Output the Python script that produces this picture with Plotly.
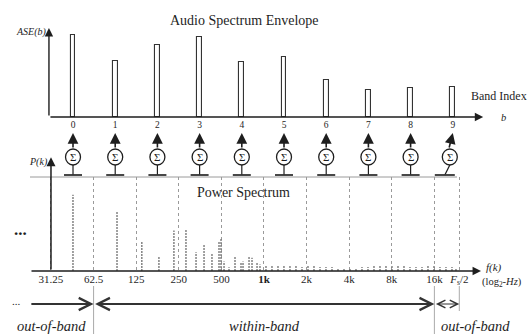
import numpy as np
import plotly.graph_objects as go

# ---------------- data ----------------
band_index = [0, 1, 2, 3, 4, 5, 6, 7, 8, 9]
ase_values = [0.92, 0.63, 0.81, 0.90, 0.62, 0.67, 0.42, 0.30, 0.33, 0.34]

edge_hz = [31.25, 62.5, 125, 250, 500, 1000, 2000, 4000, 8000, 16000, 24000]
edge_labels = ["31.25", "62.5", "125", "250", "500", "<b>1k</b>", "2k", "4k", "8k",
               "16k", "<i>F</i><sub>s</sub>/2"]

peak_hz = [44.7, 91.5, 137, 181, 231, 281, 331, 377, 429, 481, 497, 522, 566, 624,
           688, 711, 784, 823, 893, 937]
peak_power = [0.81, 0.63, 0.32, 0.15, 0.43, 0.44, 0.20, 0.28, 0.19, 0.31, 0.35, 0.10,
              0.04, 0.16, 0.09, 0.10, 0.15, 0.14, 0.09, 0.07]

floor_hz = [1033, 1139, 1256, 1384, 1526, 1683, 1856, 2046, 2256, 2488, 2742, 3024,
            3334, 3676, 4053, 4469, 4926, 5431, 5988, 6602, 7280, 8027, 8850, 9756,
            10757, 11860, 13078, 14418, 15897, 17525, 19320, 21302, 22736]
floor_power = [0.064, 0.053, 0.053, 0.064, 0.053, 0.053, 0.043, 0.053, 0.053, 0.043,
               0.043, 0.043, 0.032, 0.032, 0.032, 0.032, 0.043, 0.043, 0.053, 0.064,
               0.064, 0.064, 0.064, 0.053, 0.043, 0.043, 0.043, 0.053, 0.053, 0.043,
               0.043, 0.043, 0.032]

W, H = 527, 334
SERIF = "Liberation Serif"
INK = "#1e1e1e"


def py(px):
    return 1 - px / H


def oct_(hz):
    return float(np.log2(hz))


fig = go.Figure()

# ---- top: Audio Spectrum Envelope (hollow bars) ----
fig.add_trace(go.Bar(
    x=band_index, y=ase_values, width=0.11,
    marker=dict(color="white", line=dict(color="#333333", width=1.1)),
    xaxis="x", yaxis="y", showlegend=False, hoverinfo="skip"))

# ---- bottom: power spectrum lines ----
spec_hz = peak_hz + floor_hz
spec_p = peak_power + floor_power
xs, ys = [], []
for f, p in zip(spec_hz, spec_p):
    xs += [oct_(f), oct_(f), None]
    ys += [0, p, None]
fig.add_trace(go.Scatter(
    x=xs, y=ys, mode="lines", line=dict(color="#7a7a7a", width=1.4, dash="2px,1px"),
    xaxis="x2", yaxis="y2", showlegend=False, hoverinfo="skip"))

ann = []
shp = []


def arrow(x, y, ax, ay, xref, yref, w=1.3, head=2, size=1.0, color=INK, **kw):
    ann.append(dict(x=x, y=y, ax=ax, ay=ay, xref=xref, yref=yref, axref=xref,
                    ayref=yref, showarrow=True, arrowhead=head, arrowsize=size,
                    arrowwidth=w, arrowcolor=color, text="", standoff=0, **kw))


# top axes
arrow(9.72, 0, -0.57, 0, "x", "y", w=1.4, size=1.2)
arrow(-0.57, 1.0, -0.57, 0, "x", "y", w=1.4, size=1.2)
# bottom axes
arrow(15.06, 0, 4.473, 0, "x2", "y2", w=1.4, size=1.2)
arrow(oct_(31.25), 1.21, oct_(31.25), 0, "x2", "y2", w=1.5, size=1.2)

# summation blocks
for b in band_index:
    dx = -3 if b == band_index[-1] else 0
    cy = 157
    shp.append(dict(type="circle", xref="x", yref="paper", xsizemode="pixel",
                    ysizemode="pixel", xanchor=b, yanchor=py(cy),
                    x0=dx - 7.5, x1=dx + 7.5, y0=-8, y1=8,
                    line=dict(color=INK, width=1.3), fillcolor="white"))
    ann.append(dict(x=b, y=py(cy), xref="x", yref="paper", text="Σ", showarrow=False,
                    xanchor="center", yanchor="middle",
                    xshift=dx, font=dict(family=SERIF, size=11, color=INK)))
    ann.append(dict(x=b, y=py(133), xref="x", yref="paper", ax=(-4 if dx else 0), ay=16,
                    showarrow=True, arrowhead=2, arrowsize=1.35, arrowwidth=1.6,
                    arrowcolor=INK, text="", standoff=0, xshift=dx + (3 if dx else 0)))
    stem_bottom = -8 if dx else 0
    shp.append(dict(type="line", xref="x", yref="paper", xsizemode="pixel", xanchor=b,
                    x0=dx, x1=stem_bottom, y0=py(165), y1=py(175),
                    line=dict(color=INK, width=1.2)))
    base_l, base_r = (-18, 2) if dx else (-9, 9)
    shp.append(dict(type="line", xref="x", yref="paper", xsizemode="pixel", xanchor=b,
                    x0=base_l, x1=base_r, y0=py(175), y1=py(175),
                    line=dict(color="#333", width=1.8)))

# gray line under summation blocks
shp.append(dict(type="line", xref="paper", yref="paper", x0=30 / W, x1=457 / W,
                y0=py(177), y1=py(177), line=dict(color="#9a9a9a", width=1)))

# band range arrows
yb = py(304)
ann.append(dict(x=oct_(62.5), y=yb, ax=4.47, ay=0, xref="x2", yref="paper", axref="x2",
                ayref="pixel", showarrow=True, arrowhead=5, arrowsize=1.2,
                arrowwidth=2.0, arrowcolor="#333", text="", standoff=0))
ann.append(dict(x=oct_(16000), y=yb, ax=oct_(62.5), ay=0, xref="x2", yref="paper",
                axref="x2", ayref="pixel", showarrow=True, arrowhead=5, startarrowhead=5,
                arrowside="end+start", arrowsize=1.2, startarrowsize=1.2,
                arrowwidth=2.0, arrowcolor="#333", text="", standoff=0, startstandoff=0))
ann.append(dict(x=oct_(24000), y=yb, ax=oct_(16000), ay=0, xref="x2", yref="paper",
                axref="x2", ayref="pixel", showarrow=True, arrowhead=5, startarrowhead=5,
                arrowside="end+start", arrowsize=1.4, startarrowsize=1.4,
                arrowwidth=1.1, arrowcolor="#333", text="", standoff=0, startstandoff=0))
for f, bottom in [(62.5, 334), (16000, 334), (24000, 311)]:
    shp.append(dict(type="line", xref="x2", yref="paper", x0=oct_(f), x1=oct_(f),
                    y0=py(286), y1=py(bottom), line=dict(color="#aaaaaa", width=1)))


def txt(x, y, s, size, italic=False, **kw):
    if italic:
        s = "<i>" + s + "</i>"
    ann.append(dict(x=x / W, y=py(y), xref="paper", yref="paper", text=s,
                    xanchor="center", yanchor="middle",
                    showarrow=False, font=dict(family=SERIF, size=size, color=INK), **kw))


txt(244, 20, "Audio Spectrum Envelope", 14)
txt(31, 32, "ASE(b)", 10, italic=True)
txt(499, 96, "Band Index", 12)
txt(503, 117, "b", 10.5, italic=True)
txt(38, 162, "P(k)", 10, italic=True)
txt(243, 193, "Power Spectrum", 14)
txt(20, 229, "<b>...</b>", 17)
txt(494, 267, "f(k)", 11, italic=True)
txt(502, 282, "(log<sub>2</sub>-<i>Hz</i>)", 10.5)
txt(16, 301, "...", 11)
txt(51, 326, "out-of-band", 14.5, italic=True)
txt(264, 326, "within-band", 14.5, italic=True)
txt(475, 326, "out-of-band", 14.5, italic=True)

fig.update_layout(
    width=W, height=H, margin=dict(l=0, r=0, t=0, b=0),
    paper_bgcolor="white", plot_bgcolor="white",
    font=dict(family=SERIF, color=INK),
    xaxis=dict(domain=[0, 1], range=[-1.730, 10.758], anchor="y",
               tickmode="array", tickvals=band_index,
               ticktext=[str(b) for b in band_index], ticks="",
               showgrid=False, zeroline=False, showline=False,
               tickfont=dict(family=SERIF, size=9.5, color=INK)),
    yaxis=dict(domain=[py(117), py(28)], range=[0, 1], visible=False),
    xaxis2=dict(domain=[0, 1], range=[3.769, 16.140], anchor="y2",
                tickmode="array", tickvals=[oct_(f) for f in edge_hz],
                ticktext=edge_labels, ticks="", showgrid=True, gridcolor="#9a9a9a",
                griddash="dot", gridwidth=1, zeroline=False, showline=False,
                tickfont=dict(family=SERIF, size=11, color=INK)),
    yaxis2=dict(domain=[py(271), py(177)], range=[0, 1], visible=False),
    annotations=ann, shapes=shp, bargap=0,
)

fig.write_html("out.html")
